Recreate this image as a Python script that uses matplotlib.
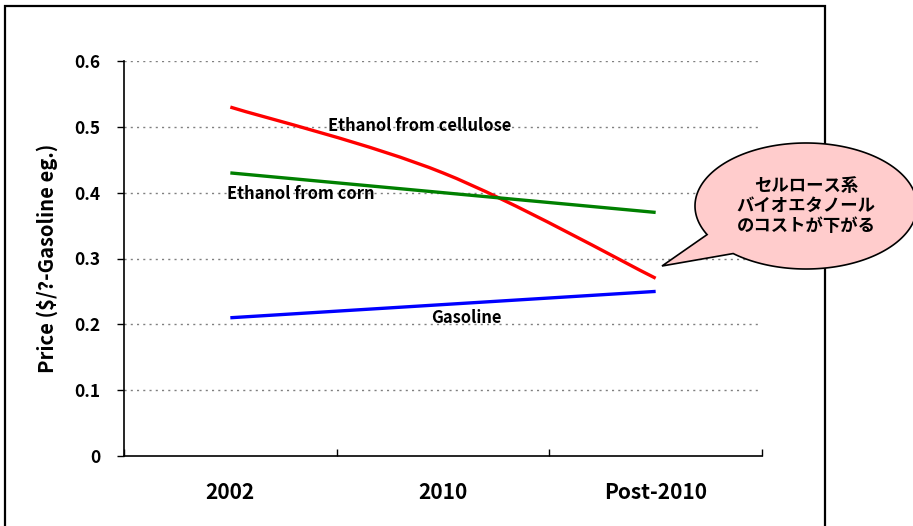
import numpy as np
import matplotlib
matplotlib.use("Agg")
import matplotlib.pyplot as plt
from matplotlib.path import Path
from matplotlib.patches import PathPatch, Rectangle, Polygon

plt.rcParams['font.family'] = ['Noto Sans CJK JP', 'DejaVu Sans']
plt.rcParams['font.weight'] = 'bold'

# Data
categories = ["2002", "2010", "Post-2010"]
cellulose = [0.53, 0.43, 0.27]
corn = [0.43, 0.40, 0.37]
gasoline = [0.21, 0.23, 0.25]
y_ticks = [0, 0.1, 0.2, 0.3, 0.4, 0.5, 0.6]
y_tick_labels = ["0", "0.1", "0.2", "0.3", "0.4", "0.5", "0.6"]

W, H = 913, 526
fig = plt.figure(figsize=(W / 100, H / 100), dpi=100)
ax = fig.add_axes([124 / W, 1 - 456 / H, (762 - 124) / W, (456 - 61) / H])


def px(x, y):
    """Pixel position (from top-left) to figure fraction."""
    return (x / W, 1 - y / H)


# outer frame
fig.patches.append(Rectangle(px(5, 540), (825 - 5) / W, (540 - 6) / H,
                             transform=fig.transFigure, fill=False,
                             edgecolor='black', linewidth=1.6, zorder=0))


def smooth_path(xs, ys):
    """Catmull-Rom style smoothed curve through the points, as cubic Bezier."""
    pts = np.column_stack([xs, ys]).astype(float)
    n = len(pts)
    verts = [pts[0]]
    codes = [Path.MOVETO]
    for i in range(n - 1):
        p0 = pts[i - 1] if i > 0 else pts[i]
        p1 = pts[i]
        p2 = pts[i + 1]
        p3 = pts[i + 2] if i + 2 < n else pts[i + 1]
        c1 = p1 + (p2 - p0) / 6.0
        c2 = p2 - (p3 - p1) / 6.0
        verts += [c1, c2, p2]
        codes += [Path.CURVE4] * 3
    return Path(verts, codes)


x = np.arange(len(categories))
ax.add_patch(PathPatch(smooth_path(x, cellulose), fill=False,
                       edgecolor='#FF0000', linewidth=2.4, capstyle='butt', zorder=3))
ax.plot(x, corn, color='#008000', linewidth=2.4, zorder=3, solid_capstyle='butt')
ax.plot(x, gasoline, color='#0000FF', linewidth=2.4, zorder=3, solid_capstyle='butt')

ax.set_xlim(-0.5, 2.5)
ax.set_ylim(0, 0.6)
ax.set_yticks(y_ticks)
ax.set_yticklabels(y_tick_labels, fontsize=12.5, fontweight='bold')
ax.set_xticks([-0.5, 0.5, 1.5, 2.5])
ax.set_xticklabels([])
ax.set_xticks(x, minor=True)
ax.set_xticklabels(categories, minor=True, fontsize=15, fontweight='bold')
ax.tick_params(axis='x', which='major', direction='in', length=5, width=1)
ax.tick_params(axis='x', which='minor', length=0, pad=19)
ax.tick_params(axis='y', direction='out', length=5, width=1, pad=12)

for s in ['top', 'right']:
    ax.spines[s].set_visible(False)
for s in ['left', 'bottom']:
    ax.spines[s].set_linewidth(1.2)

for v in y_ticks[1:]:
    ax.axhline(v, color='#808080', linestyle=(0, (1.5, 3)), linewidth=1.0, zorder=1)

ax.set_ylabel("Price ($/?-Gasoline eg.)", fontsize=14.5, fontweight='bold', labelpad=12)

ax.text(0.89, 0.502, "Ethanol from cellulose", fontsize=11.9, fontweight='bold',
        ha='center', va='center', zorder=4)
ax.text(0.33, 0.398, "Ethanol from corn", fontsize=11.9, fontweight='bold',
        ha='center', va='center', zorder=4)
ax.text(1.11, 0.21, "Gasoline", fontsize=11.9, fontweight='bold',
        ha='center', va='center', zorder=4)

# speech balloon
cx, cy, a, b = 806, 206, 111, 63
ang = np.linspace(0, 2 * np.pi, 361)
pts = []
tail_done = False
for t in np.degrees(ang):
    if 131 < t < 153:
        if not tail_done:
            pts.append((662, 266))
            tail_done = True
        continue
    r = np.radians(t)
    pts.append((cx + a * np.cos(r), cy + b * np.sin(r)))
poly = [px(p[0], p[1]) for p in pts]
fig.patches.append(Polygon(poly, closed=True, transform=fig.transFigure,
                           facecolor='#FFCCCC', edgecolor='black', linewidth=1.2,
                           zorder=5))
fig.text(806 / W, 1 - 206 / H, "セルロース系\nバイオエタノール\nのコストが下がる",
         fontsize=12.5, fontweight='bold', ha='center', va='center',
         linespacing=1.15, zorder=6)

fig.savefig("out.png", dpi=100)
